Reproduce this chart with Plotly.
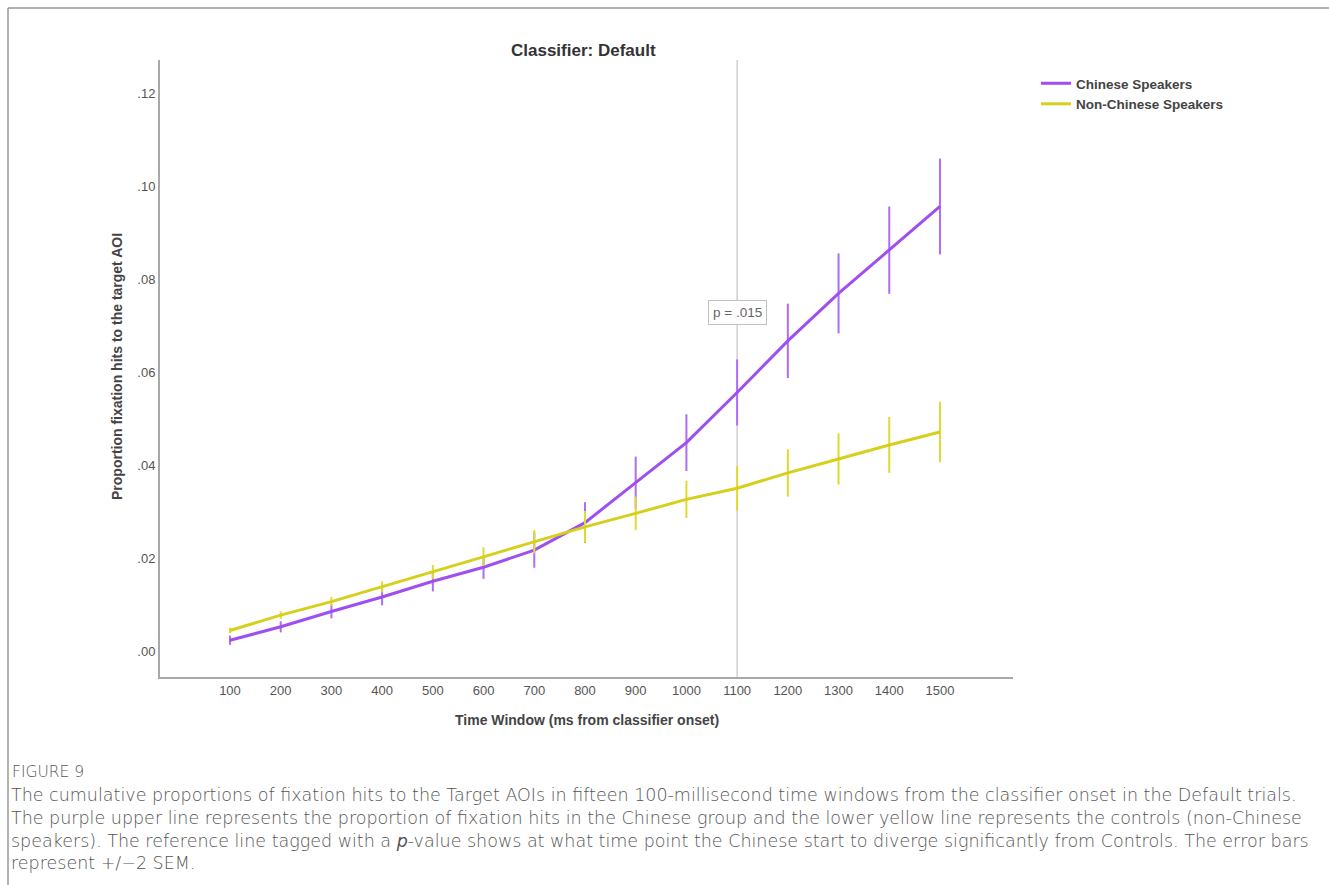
import plotly.graph_objects as go

W, H = 1329, 885

# Time windows (ms from classifier onset)
time_windows = [100, 200, 300, 400, 500, 600, 700, 800, 900, 1000, 1100, 1200, 1300, 1400, 1500]

# Cumulative proportion of fixation hits to the target AOI
chinese = [0.0023, 0.0052, 0.0085, 0.0116, 0.0150, 0.0180, 0.0217, 0.0276, 0.0362, 0.0448,
           0.0556, 0.0667, 0.0769, 0.0862, 0.0956]
non_chinese = [0.0044, 0.0077, 0.0106, 0.0138, 0.0170, 0.0203, 0.0235, 0.0267, 0.0296, 0.0326,
               0.0350, 0.0383, 0.0413, 0.0443, 0.0471]

# +/- 2 SEM
chinese_err = [0.0010, 0.0012, 0.0015, 0.0018, 0.0022, 0.0025, 0.0038, 0.0044, 0.0056, 0.0061,
               0.0071, 0.0080, 0.0086, 0.0094, 0.0103]
non_chinese_err = [0.0006, 0.0008, 0.0010, 0.0012, 0.0015, 0.0020, 0.0025, 0.0034, 0.0036, 0.0040,
                   0.0048, 0.0051, 0.0055, 0.0060, 0.0065]

y_tick_vals = [0.00, 0.02, 0.04, 0.06, 0.08, 0.10, 0.12]
y_tick_text = [".00", ".02", ".04", ".06", ".08", ".10", ".12"]

ref_time = 1100
p_label = "p = .015"

caption_head = "FIGURE 9"
caption_lines = [
    "The cumulative proportions of fixation hits to the Target AOIs in fifteen 100-millisecond time windows from the classifier onset in the Default trials.",
    "The purple upper line represents the proportion of fixation hits in the Chinese group and the lower yellow line represents the controls (non-Chinese",
    "speakers). The reference line tagged with a <i>p</i>-value shows at what time point the Chinese start to diverge significantly from Controls. The error bars",
    "represent +/\u22122 SEM.",
]

PURPLE = "#a04ef0"
PURPLE_ERR = "#b06cf7"
YELLOW = "#d6cf1c"
YELLOW_ERR = "#e0da30"
FONT = "Liberation Sans, Arial, sans-serif"
CAPTION_FONT = "DejaVu Sans, sans-serif"


def px_x(x):
    return x / W


def px_y(y):
    return 1 - y / H


fig = go.Figure()

fig.add_trace(go.Scatter(
    x=time_windows, y=chinese, mode="lines", name="Chinese Speakers",
    line=dict(color=PURPLE, width=3),
    error_y=dict(type="data", array=chinese_err, visible=True, width=0,
                 thickness=2, color=PURPLE_ERR),
))
fig.add_trace(go.Scatter(
    x=time_windows, y=non_chinese, mode="lines", name="Non-Chinese Speakers",
    line=dict(color=YELLOW, width=3),
    error_y=dict(type="data", array=non_chinese_err, visible=True, width=0,
                 thickness=2, color=YELLOW_ERR),
))

# Reference line at the divergence point
fig.add_shape(type="line", xref="x", yref="y domain", x0=ref_time, x1=ref_time, y0=0, y1=1,
              line=dict(color="#c4c4c4", width=1.2), layer="below")

fig.add_annotation(x=ref_time, y=0.0727, xref="x", yref="y", text=p_label, showarrow=False,
                   xanchor="center", yanchor="middle",
                   font=dict(family=FONT, size=13.5, color="#666"),
                   bgcolor="white", bordercolor="#c0c0c0", borderwidth=1, borderpad=4)

# Outer frame
fig.add_shape(type="line", xref="paper", yref="paper", x0=px_x(8), x1=1.0, y0=px_y(8), y1=px_y(8),
              line=dict(color="#9a9a9a", width=1.5))
fig.add_shape(type="line", xref="paper", yref="paper", x0=px_x(8), x1=px_x(8), y0=0, y1=px_y(8),
              line=dict(color="#9a9a9a", width=1.5))

# Titles
fig.add_annotation(x=px_x(583), y=px_y(50), xref="paper", yref="paper", text="<b>Classifier: Default</b>",
                   xanchor="center", yanchor="middle",
                   showarrow=False, font=dict(family=FONT, size=17, color="#333"))
fig.add_annotation(x=px_x(587), y=px_y(720), xref="paper", yref="paper",
                   text="<b>Time Window (ms from classifier onset)</b>",
                   xanchor="center", yanchor="middle",
                   showarrow=False, font=dict(family=FONT, size=14, color="#444"))
fig.add_annotation(x=px_x(117), y=px_y(367), xref="paper", yref="paper",
                   text="<b>Proportion fixation hits to the target AOI</b>", textangle=-90,
                   xanchor="center", yanchor="middle",
                   showarrow=False, font=dict(family=FONT, size=14, color="#444"))

# Caption
fig.add_annotation(x=px_x(10), y=px_y(772), xref="paper", yref="paper", xanchor="left", yanchor="middle",
                   text=caption_head, showarrow=False,
                   font=dict(family=CAPTION_FONT, size=15.5, color="#555", weight=300))
fig.add_annotation(x=px_x(9), y=px_y(829), xref="paper", yref="paper",
                   xanchor="left", yanchor="middle", align="left",
                   text="<br>".join(caption_lines), showarrow=False,
                   font=dict(family=CAPTION_FONT, size=17.5, color="#555", weight=300))

fig.update_layout(
    width=W, height=H,
    margin=dict(l=0, r=0, t=0, b=0),
    paper_bgcolor="white", plot_bgcolor="white",
    font=dict(family=FONT, color="#555"),
    xaxis=dict(
        domain=[px_x(160), px_x(1013)],
        range=[-38, 1644],
        tickmode="array", tickvals=time_windows, ticktext=[str(t) for t in time_windows],
        showgrid=False, zeroline=False, showline=True, linecolor="#a8a8a8", linewidth=2,
        ticks="", tickfont=dict(family=FONT, size=13, color="#555"),
    ),
    yaxis=dict(
        domain=[px_y(677), px_y(60)],
        range=[-0.0056, 0.1271],
        tickmode="array", tickvals=y_tick_vals, ticktext=y_tick_text,
        showgrid=False, zeroline=False, showline=True, linecolor="#a8a8a8", linewidth=2,
        ticks="", tickfont=dict(family=FONT, size=13, color="#555"),
    ),
    legend=dict(
        x=px_x(1036), y=px_y(68), xanchor="left", yanchor="top",
        font=dict(family=FONT, size=13.5, color="#444", weight="bold"),
        bgcolor="rgba(0,0,0,0)", tracegroupgap=0, itemwidth=30,
    ),
    showlegend=True,
)

fig.write_html("out.html")
